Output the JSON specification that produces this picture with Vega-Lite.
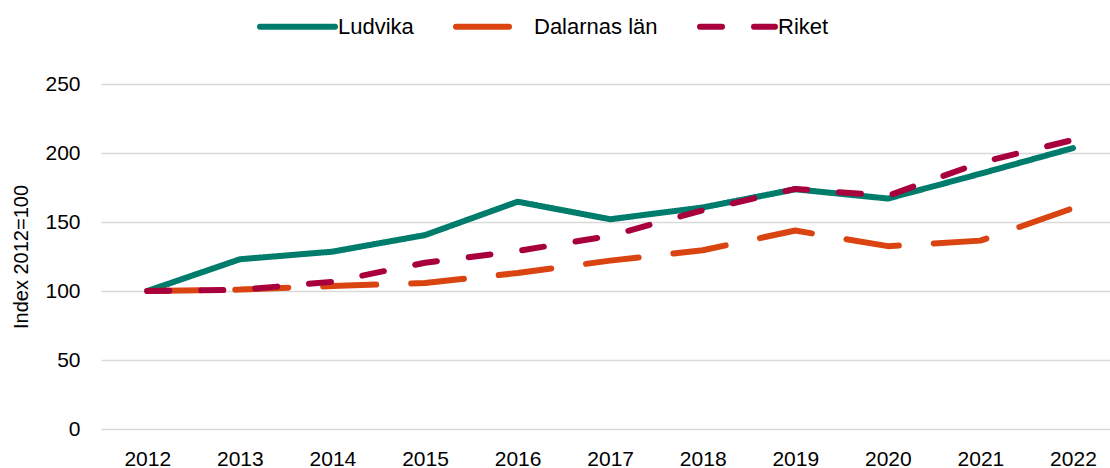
{
  "$schema": "https://vega.github.io/schema/vega-lite/v6.json",
  "width": 1009,
  "height": 345,
  "autosize": {"type": "none"},
  "padding": {"left": 101, "top": 84, "right": 0, "bottom": 39},
  "background": "white",
  "config": {
    "view": {"stroke": null},
    "font": "Liberation Sans"
  },
  "data": {
    "values": [
      {"year": 2012, "serie": "Ludvika", "value": 100},
      {"year": 2013, "serie": "Ludvika", "value": 123},
      {"year": 2014, "serie": "Ludvika", "value": 128.5},
      {"year": 2015, "serie": "Ludvika", "value": 140.5},
      {"year": 2016, "serie": "Ludvika", "value": 164.7},
      {"year": 2017, "serie": "Ludvika", "value": 152},
      {"year": 2018, "serie": "Ludvika", "value": 160.5},
      {"year": 2019, "serie": "Ludvika", "value": 173.7},
      {"year": 2020, "serie": "Ludvika", "value": 167},
      {"year": 2021, "serie": "Ludvika", "value": 185},
      {"year": 2022, "serie": "Ludvika", "value": 203.6},
      {"year": 2012, "serie": "Dalarnas län", "value": 100},
      {"year": 2013, "serie": "Dalarnas län", "value": 101},
      {"year": 2014, "serie": "Dalarnas län", "value": 103.6},
      {"year": 2015, "serie": "Dalarnas län", "value": 105.8},
      {"year": 2016, "serie": "Dalarnas län", "value": 113},
      {"year": 2017, "serie": "Dalarnas län", "value": 122},
      {"year": 2018, "serie": "Dalarnas län", "value": 129.5},
      {"year": 2019, "serie": "Dalarnas län", "value": 143.8},
      {"year": 2020, "serie": "Dalarnas län", "value": 132.5},
      {"year": 2021, "serie": "Dalarnas län", "value": 136.5},
      {"year": 2022, "serie": "Dalarnas län", "value": 160},
      {"year": 2012, "serie": "Riket", "value": 100},
      {"year": 2013, "serie": "Riket", "value": 100.8},
      {"year": 2014, "serie": "Riket", "value": 106.7},
      {"year": 2015, "serie": "Riket", "value": 120.5},
      {"year": 2016, "serie": "Riket", "value": 129},
      {"year": 2017, "serie": "Riket", "value": 140},
      {"year": 2018, "serie": "Riket", "value": 158.5},
      {"year": 2019, "serie": "Riket", "value": 174},
      {"year": 2020, "serie": "Riket", "value": 169},
      {"year": 2021, "serie": "Riket", "value": 193},
      {"year": 2022, "serie": "Riket", "value": 209.5}
    ]
  },
  "mark": {"type": "line", "strokeWidth": 6, "strokeCap": "round", "strokeJoin": "round"},
  "encoding": {
    "x": {
      "field": "year",
      "type": "quantitative",
      "scale": {"domain": [2011.5, 2022.4], "nice": false, "zero": false},
      "axis": {
        "values": [2012, 2013, 2014, 2015, 2016, 2017, 2018, 2019, 2020, 2021, 2022],
        "format": "d",
        "title": null,
        "grid": false,
        "domain": false,
        "ticks": false,
        "labelFontSize": 21,
        "labelColor": "#000000",
        "labelPadding": 19,
        "labelFlush": false
      }
    },
    "y": {
      "field": "value",
      "type": "quantitative",
      "scale": {"domain": [0, 250], "nice": false},
      "axis": {
        "values": [0, 50, 100, 150, 200, 250],
        "title": "Index 2012=100",
        "titleFontSize": 20,
        "titleFontWeight": "normal",
        "titleColor": "#000000",
        "titlePadding": 13,
        "grid": true,
        "gridColor": "#D9D9D9",
        "gridWidth": 1.5,
        "domain": false,
        "ticks": false,
        "labelFontSize": 21,
        "labelColor": "#000000",
        "labelPadding": 21
      }
    },
    "color": {
      "field": "serie",
      "type": "nominal",
      "sort": ["Ludvika", "Dalarnas län", "Riket"],
      "scale": {"domain": ["Ludvika", "Dalarnas län", "Riket"], "range": ["#007C6C", "#D94410", "#A8003C"]},
      "legend": {
        "title": null,
        "orient": "none",
        "direction": "horizontal",
        "legendX": 156,
        "legendY": -98,
        "symbolType": "stroke",
        "symbolSize": 5625,
        "symbolStrokeWidth": 6,
        "labelFontSize": 22,
        "labelColor": "#000000",
        "labelOffset": 0,
        "columnPadding": 30,
        "padding": 0,
        "encode": {"symbols": {"update": {"strokeCap": {"value": "round"}}}}
      }
    },
    "strokeDash": {
      "field": "serie",
      "type": "nominal",
      "sort": ["Ludvika", "Dalarnas län", "Riket"],
      "scale": {"domain": ["Ludvika", "Dalarnas län", "Riket"], "range": [[1, 0], [53, 35], [22, 32]]},
      "legend": {
        "title": null,
        "orient": "none",
        "direction": "horizontal",
        "legendX": 156,
        "legendY": -98,
        "symbolType": "stroke",
        "symbolSize": 5625,
        "symbolStrokeWidth": 6,
        "labelFontSize": 22,
        "labelColor": "#000000",
        "labelOffset": 0,
        "columnPadding": 30,
        "padding": 0,
        "encode": {"symbols": {"update": {"strokeCap": {"value": "round"}}}}
      }
    },
    "order": {"field": "year", "type": "quantitative"}
  }
}
